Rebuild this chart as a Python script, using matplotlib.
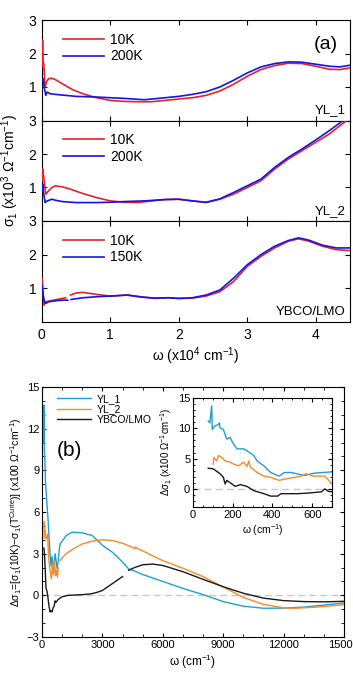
import numpy as np
import matplotlib
matplotlib.use("Agg")
import matplotlib.pyplot as plt
import matplotlib.transforms as mtransforms
from matplotlib.ticker import MultipleLocator

plt.rcParams['font.family'] = ['Liberation Sans', 'DejaVu Sans']
plt.rcParams['mathtext.fontset'] = 'custom'
plt.rcParams['mathtext.rm'] = 'Liberation Sans'
plt.rcParams['mathtext.it'] = 'Liberation Sans:italic'

nan = np.nan

# ---------------- panel (a) data (x in 10^4 cm^-1, sigma in 10^3 Ohm^-1 cm^-1)
labels_a = ["YL_1", "YL_2", "YBCO/LMO"]
temps_a = [("10K", "200K"), ("10K", "200K"), ("10K", "150K")]

x1r = [0.005, 0.012, 0.02, 0.03, 0.05, 0.07, 0.1, 0.15, 0.2, 0.3, 0.45, 0.6, 0.8, 1.0, 1.2, 1.4, 1.6, 1.8, 2.0, 2.2, 2.4, 2.6, 2.8, 3.0, 3.2, 3.4, 3.6, 3.8, 4.0, 4.2, 4.35, 4.5]
y1r = [1.6, 2.4, 1.8, 1.7, 1.0, 1.15, 1.25, 1.26, 1.22, 1.1, 0.92, 0.8, 0.68, 0.6, 0.57, 0.56, 0.56, 0.6, 0.64, 0.68, 0.75, 0.88, 1.08, 1.32, 1.52, 1.64, 1.71, 1.70, 1.62, 1.53, 1.52, 1.57]
x1b = [0.005, 0.02, 0.04, 0.06, 0.08, 0.12, 0.2, 0.3, 0.5, 0.8, 1.0, 1.2, 1.5, 1.8, 2.0, 2.2, 2.4, 2.6, 2.8, 3.0, 3.2, 3.4, 3.6, 3.8, 4.0, 4.2, 4.35, 4.5]
y1b = [1.2, 1.25, 0.95, 0.75, 0.85, 0.8, 0.78, 0.76, 0.72, 0.7, 0.68, 0.66, 0.62, 0.68, 0.72, 0.78, 0.86, 1.0, 1.2, 1.42, 1.6, 1.7, 1.75, 1.74, 1.68, 1.62, 1.6, 1.65]

x2r = [0.005, 0.015, 0.03, 0.06, 0.1, 0.15, 0.2, 0.3, 0.42, 0.6, 0.8, 1.0, 1.2, 1.4, 1.6, 1.8, 2.0, 2.2, 2.4, 2.6, 2.8, 3.0, 3.2, 3.4, 3.6, 3.8, 4.0, 4.2, 4.45]
y2r = [1.2, 1.55, 1.3, 0.8, 0.9, 1.0, 1.05, 1.02, 0.95, 0.82, 0.7, 0.6, 0.56, 0.55, 0.6, 0.64, 0.65, 0.6, 0.55, 0.65, 0.8, 1.0, 1.2, 1.55, 1.85, 2.1, 2.35, 2.6, 3.0]
x2b = [0.005, 0.015, 0.03, 0.05, 0.08, 0.15, 0.2, 0.3, 0.5, 0.8, 1.0, 1.2, 1.5, 1.8, 2.0, 2.2, 2.4, 2.6, 2.8, 3.0, 3.2, 3.4, 3.6, 3.8, 4.0, 4.2, 4.4]
y2b = [0.9, 1.1, 0.8, 0.55, 0.6, 0.65, 0.62, 0.58, 0.55, 0.55, 0.56, 0.58, 0.6, 0.64, 0.65, 0.6, 0.56, 0.66, 0.85, 1.05, 1.25, 1.6, 1.9, 2.15, 2.42, 2.7, 3.0]

x3r = [0.005, 0.02, 0.035, 0.05, 0.1, 0.2, 0.35, 0.37, 0.42, 0.5, 0.6, 0.8, 1.0, 1.25, 1.45, 1.65, 1.85, 2.0, 2.2, 2.4, 2.6, 2.8, 3.0, 3.2, 3.4, 3.6, 3.75, 3.9, 4.1, 4.3, 4.5]
y3r = [1.3, 0.9, 0.5, 0.6, 0.62, 0.66, 0.72, nan, 0.8, 0.86, 0.88, 0.82, 0.77, 0.8, 0.75, 0.7, 0.72, 0.7, 0.71, 0.77, 0.9, 1.2, 1.65, 1.95, 2.2, 2.4, 2.47, 2.4, 2.25, 2.15, 2.12]
x3b = [0.005, 0.02, 0.04, 0.06, 0.1, 0.2, 0.3, 0.38, 0.4, 0.43, 0.6, 0.8, 1.0, 1.25, 1.45, 1.65, 1.85, 2.0, 2.2, 2.4, 2.6, 2.8, 3.0, 3.2, 3.4, 3.6, 3.75, 3.9, 4.1, 4.3, 4.5]
y3b = [1.1, 0.8, 0.6, 0.55, 0.6, 0.63, 0.65, 0.65, nan, 0.67, 0.72, 0.75, 0.77, 0.8, 0.74, 0.71, 0.72, 0.7, 0.72, 0.8, 0.95, 1.3, 1.7, 2.0, 2.25, 2.42, 2.5, 2.43, 2.28, 2.2, 2.2]

series_a = [((x1r, y1r), (x1b, y1b)), ((x2r, y2r), (x2b, y2b)), ((x3r, y3r), (x3b, y3b))]

# ---------------- panel (b) data (omega in cm^-1, delta sigma in 100 Ohm^-1 cm^-1)
labels_b = ["YL_1", "YL_2", "YBCO/LMO"]
xb1 = [90, 100, 115, 140, 170, 200, 250, 300, 350, 400, 450, 500, 550, 600, 650, 700, 750, 800, 850, 900, 1000, 1200, 1500, 2000, 2500, 3000, 3500, 4000, 4300, 4600, 5000, 6000, 7000, 8000, 9000, 10000, 11000, 12000, 13000, 14000, 15000]
yb1 = [11.0, 13.7, 10.5, 9.8, 8.3, 7.6, 6.5, 5.5, 4.2, 3.0, 2.1, 2.8, 2.2, 2.0, 3.0, 2.5, 1.9, 2.4, 3.2, 3.7, 3.9, 4.3, 4.55, 4.5, 4.3, 3.6, 3.1, 2.4, 1.9, 1.75, 1.5, 1.0, 0.5, 0.05, -0.45, -0.78, -0.93, -0.92, -0.85, -0.7, -0.55]
xb2 = [100, 110, 130, 160, 200, 250, 280, 320, 380, 420, 470, 520, 570, 620, 670, 720, 770, 800, 850, 900, 1000, 1200, 1500, 2000, 2500, 3000, 3500, 4000, 4500, 4600, 4650, 4750, 5000, 6000, 7000, 8000, 9000, 10000, 11000, 12000, 12500, 13500, 15000]
yb2 = [4.1, 5.3, 4.8, 4.6, 4.1, 4.2, 4.4, 3.0, 2.0, 1.6, 1.2, 2.3, 1.5, 2.5, 1.4, 1.8, 1.3, 2.0, nan, 2.5, 2.7, 3.0, 3.3, 3.7, 3.9, 4.0, 3.95, 3.75, 3.45, 3.35, 3.5, 3.35, 3.2, 2.5, 1.95, 1.35, 0.6, -0.15, -0.65, -0.9, -0.93, -0.86, -0.68]
xb3 = [90, 110, 140, 170, 200, 250, 300, 350, 400, 450, 500, 550, 600, 650, 700, 800, 900, 1000, 1300, 1600, 2000, 2400, 2700, 3000, 3400, 3700, 4000, 4150, 4300, 4600, 5000, 5500, 6000, 7000, 8000, 9000, 10000, 11000, 12000, 13000, 14000, 15000]
yb3 = [3.4, 3.2, 2.5, 1.5, 0.5, 0.3, -0.2, -0.8, -1.2, -1.1, -1.2, -0.9, -0.8, -0.4, -0.5, -0.3, -0.2, -0.1, 0.0, 0.02, 0.05, 0.1, 0.2, 0.35, 0.75, 1.05, 1.35, nan, 1.8, 2.0, 2.2, 2.25, 2.15, 1.7, 1.15, 0.62, 0.15, -0.2, -0.38, -0.45, -0.47, -0.43]

# inset data
xi1 = [77, 85, 94, 97, 110, 128, 133, 136, 153, 170, 187, 200, 221, 255, 272, 306, 323, 357, 391, 434, 460, 494, 562, 579, 613, 700]
yi1 = [11.2, 10.9, 13.7, 9.8, 10.4, 10.6, 10.9, 10.1, 9.8, 8.2, 8.5, 7.6, 6.6, 6.6, 6.3, 5.5, 4.6, 3.8, 2.7, 2.1, 2.7, 2.7, 2.2, 2.35, 2.6, 2.8]
xi2 = [102, 105, 119, 128, 145, 162, 187, 204, 230, 255, 272, 281, 289, 323, 357, 391, 434, 477, 545, 570, 604, 664, 700]
yi2 = [4.1, 5.2, 4.6, 5.5, 5.2, 4.6, 4.4, 4.1, 3.8, 4.4, 3.7, 4.6, 3.6, 2.7, 2.1, 1.9, 1.4, 1.7, 2.1, 2.5, 2.1, 2.1, 0.8]
xi3 = [77, 102, 136, 153, 162, 170, 196, 213, 238, 272, 306, 357, 391, 426, 443, 528, 579, 647, 664, 681, 700]
yi3 = [3.4, 3.3, 2.5, 1.9, 0.8, 1.4, 0.8, 0.4, 0.7, 0.4, -0.3, -0.8, -1.2, -1.2, -0.8, -0.8, -0.7, -0.5, 0.0, -0.4, -0.5]

RED = '#e8202a'
BLUE = '#1414e6'
COLS_B = ['#1e9fd3', '#f58a26', '#1a1a1a']

W, H = 353, 676
fig = plt.figure(figsize=(W / 100, H / 100), dpi=100)

def fax(l, t, r, b):
    return fig.add_axes([l / W, 1 - b / H, (r - l) / W, (b - t) / H])

tops = [20, 120.5, 221]
bots = [120.5, 221, 322]
for i in range(3):
    ax = fax(41.7, tops[i], 350, bots[i])
    (xr, yr), (xbl, ybl) = series_a[i]
    ax.plot(xr, yr, color=RED, lw=1.2, label=temps_a[i][0], zorder=3)
    ax.plot(xbl, ybl, color=BLUE, lw=1.2, label=temps_a[i][1], zorder=3)
    ax.set_xlim(0, 4.5)
    ax.set_ylim(0, 3)
    ax.set_yticks([1, 2, 3])
    ax.set_xticks([0, 1, 2, 3, 4])
    ax.tick_params(direction='in', top=True, right=True, labelsize=10, length=3.5, pad=4)
    if i < 2:
        ax.tick_params(labelbottom=False)
    ax.legend(loc='upper left', frameon=False, fontsize=10, handlelength=3.0,
              handletextpad=0.4, labelspacing=0.2, bbox_to_anchor=(0.05, 0.93),
              borderaxespad=0.0)
    ax.text(0.985, 0.04, labels_a[i], transform=ax.transAxes, ha='right', va='bottom', fontsize=9.5)
    if i == 0:
        ax.text(0.96, 0.76, "(a)", transform=ax.transAxes, ha='right', va='center', fontsize=14)
    if i == 2:
        ax.set_xlabel(r"ω (x10$^{4}$ cm$^{-1}$)", fontsize=10, labelpad=3)

fig.text(10 / W, 1 - 170 / H, r"σ$_1$ (x10$^3$ Ω$^{-1}$cm$^{-1}$)", rotation=90,
         ha='center', va='center', fontsize=10)

# panel (b)
axb = fax(42, 387, 344, 637)
for xs, ys, c, lab in zip([xb1, xb2, xb3], [yb1, yb2, yb3], COLS_B, labels_b):
    axb.plot(xs, ys, color=c, lw=1.0, label=lab, zorder=3)
axb.axhline(0, color='#c8c8c8', lw=1.0, ls=(0, (5, 3)), zorder=0)
axb.set_xlim(0, 15000)
axb.set_ylim(-3, 15)
axb.set_xticks([0, 3000, 6000, 9000, 12000, 15000])
axb.set_xticklabels(["0", "3000", "6000", "9000", "12000", "1500"])
axb.set_yticks([-3, 0, 3, 6, 9, 12, 15])
axb.xaxis.set_minor_locator(MultipleLocator(1000))
axb.yaxis.set_minor_locator(MultipleLocator(1))
axb.tick_params(which='both', direction='in', top=True, right=True, labelsize=8, pad=2)
axb.tick_params(which='major', length=3)
axb.tick_params(which='minor', length=2)
lastlab = axb.get_xticklabels()[-1]
lastlab.set_transform(lastlab.get_transform() + mtransforms.ScaledTranslation(-4 / 100, 0, fig.dpi_scale_trans))
axb.set_xlabel(r"ω (cm$^{-1}$)", fontsize=8.5, labelpad=2)
axb.set_ylabel(r"Δσ$_1$=[σ$_1$(10K)−σ$_1$(T$^{\rm Curie}$)] (x100 Ω$^{-1}$cm$^{-1}$)",
               fontsize=7.5, labelpad=2)
axb.legend(loc='upper left', frameon=False, fontsize=7.5, handlelength=3.3,
           handletextpad=0.5, labelspacing=0.05, bbox_to_anchor=(0.035, 0.99), borderaxespad=0.0)
axb.text(0.05, 0.745, "(b)", transform=axb.transAxes, ha='left', va='center', fontsize=15)

# inset
axi = fax(193, 398, 332, 507)
for xs, ys, c in zip([xi1, xi2, xi3], [yi1, yi2, yi3], COLS_B):
    axi.plot(xs, ys, color=c, lw=1.0, zorder=3)
axi.axhline(0, color='#c8c8c8', lw=1.0, ls=(0, (5, 3)), zorder=0)
axi.set_xlim(0, 700)
axi.set_ylim(-3, 15)
axi.set_xticks([0, 200, 400, 600])
axi.set_yticks([0, 5, 10, 15])
axi.xaxis.set_minor_locator(MultipleLocator(50))
axi.yaxis.set_minor_locator(MultipleLocator(1))
axi.tick_params(which='both', direction='in', top=True, right=True, labelsize=8, pad=2)
axi.tick_params(which='major', length=3)
axi.tick_params(which='minor', length=1.5)
axi.set_xlabel(r"ω (cm$^{-1}$)", fontsize=7.5, labelpad=2)
axi.set_ylabel(r"Δσ$_1$ (x100 Ω$^{-1}$cm$^{-1}$)", fontsize=7, labelpad=3)

fig.savefig("out.png", dpi=100)
